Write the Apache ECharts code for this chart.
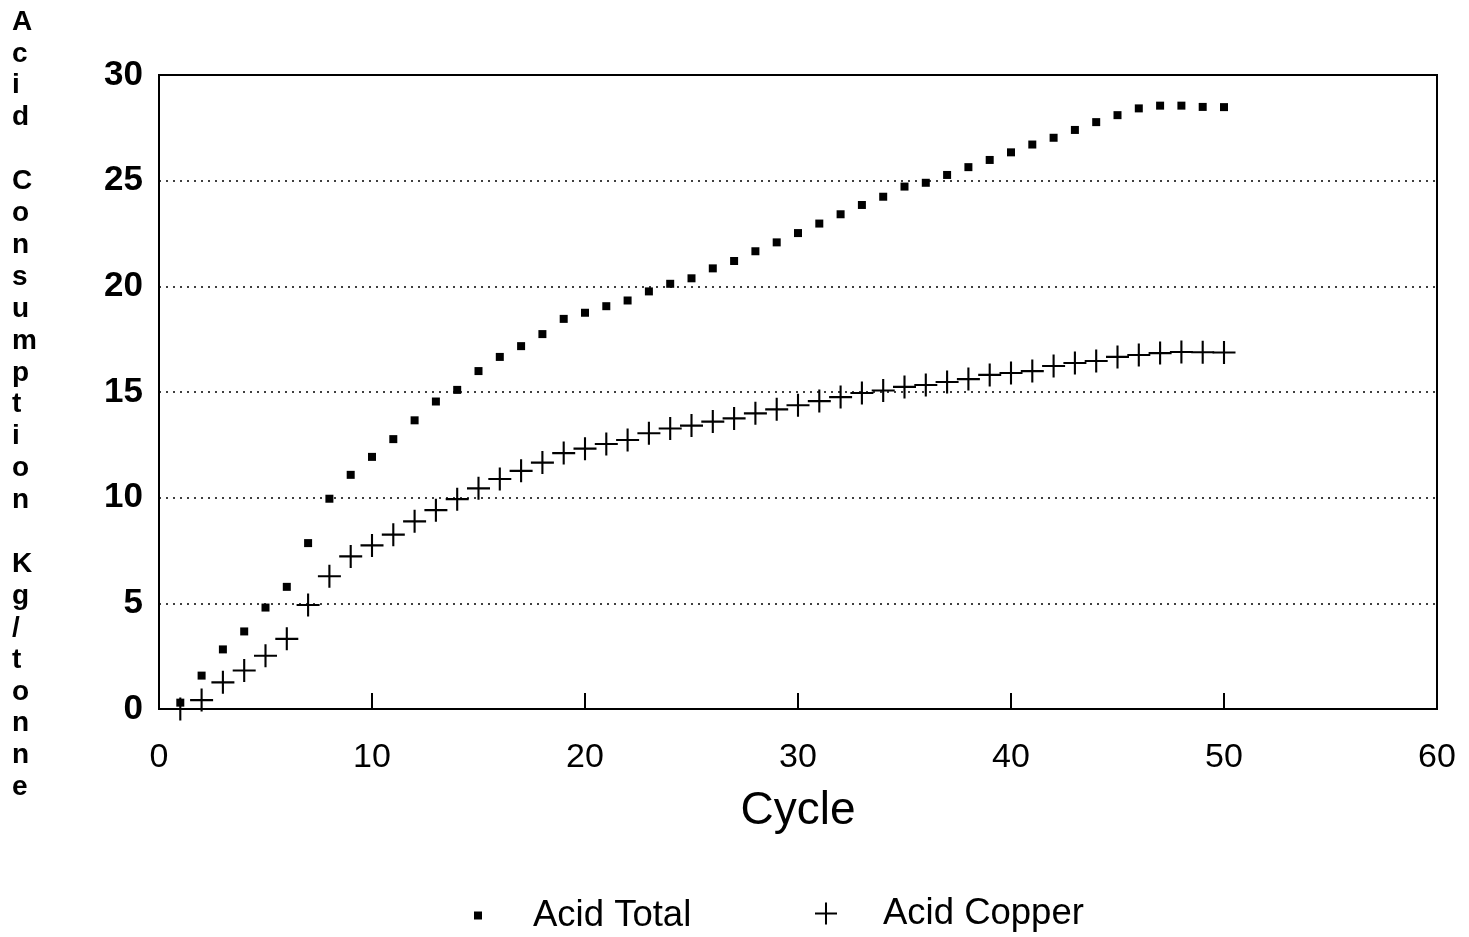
<!DOCTYPE html>
<html>
<head>
<meta charset="utf-8">
<script src="https://cdn.jsdelivr.net/npm/echarts@6/dist/echarts.min.js"></script>
<style>
html,body{margin:0;padding:0;background:#fff;}
#chart{width:1469px;height:937px;}
</style>
</head>
<body>
<div id="chart"></div>
<script>
const cycles = [1,2,3,4,5,6,7,8,9,10,11,12,13,14,15,16,17,18,19,20,21,22,23,24,25,26,27,28,29,30,31,32,33,34,35,36,37,38,39,40,41,42,43,44,45,46,47,48,49,50];
const acidTotal = [0.3,1.58,2.82,3.67,4.8,5.78,7.85,9.95,11.08,11.93,12.77,13.66,14.55,15.1,15.99,16.66,17.17,17.74,18.46,18.75,19.06,19.33,19.76,20.12,20.38,20.85,21.2,21.66,22.08,22.52,22.97,23.41,23.85,24.24,24.72,24.9,25.27,25.64,25.98,26.34,26.71,27.03,27.4,27.77,28.1,28.42,28.55,28.55,28.49,28.48];
const acidCopper = [0.0,0.42,1.26,1.82,2.52,3.32,4.92,6.28,7.22,7.74,8.25,8.88,9.41,9.93,10.44,10.88,11.27,11.66,12.11,12.32,12.54,12.73,13.05,13.27,13.41,13.6,13.75,13.99,14.18,14.37,14.57,14.76,14.95,15.07,15.24,15.33,15.47,15.61,15.81,15.9,15.99,16.23,16.37,16.47,16.66,16.75,16.84,16.89,16.88,16.87];
const xTicks = [0,10,20,30,40,50,60];
const yTicks = [0,5,10,15,20,25,30];
const seriesNames = ['Acid Total','Acid Copper'];
const xTitle = 'Cycle';
const yTitle = 'Acid Consumption Kg/tonne';

const plusPath = 'path://M-1.1,-12h2.2v24h-2.2z M-12,-1.1h24v2.2h-24z';
const yTitleStacked = yTitle.split(' ').map(w => w.split('').join('\n')).join('\n\n');

const chart = echarts.init(document.getElementById('chart'), null, {renderer:'canvas'});
chart.setOption({
  animation:false,
  backgroundColor:'#fff',
  grid:{left:159, right:32, top:75, bottom:228, show:true, borderColor:'#000', borderWidth:2, backgroundColor:'transparent'},
  xAxis:{
    type:'value', min:xTicks[0], max:xTicks[xTicks.length-1], interval:10,
    name:xTitle, nameLocation:'middle', nameGap:79,
    nameTextStyle:{fontFamily:'Liberation Sans', fontSize:46, color:'#000'},
    axisLine:{show:true, lineStyle:{color:'#000', width:2}},
    axisTick:{show:true, inside:true, length:16, lineStyle:{color:'#000', width:2}},
    axisLabel:{fontFamily:'Liberation Sans', fontSize:34, color:'#000', margin:32},
    splitLine:{show:false}
  },
  yAxis:{
    type:'value', min:yTicks[0], max:yTicks[yTicks.length-1], interval:5,
    axisLine:{show:true, lineStyle:{color:'#000', width:2}},
    axisTick:{show:false},
    axisLabel:{fontFamily:'Liberation Sans', fontSize:35, fontWeight:'bold', color:'#000', margin:16, padding:[8,0,0,0]},
    splitLine:{show:true, lineStyle:{color:'#000', width:1.5, type:[2,5]}}
  },
  graphic:[{
    type:'text', left:12, top:6,
    style:{text:yTitleStacked, fontFamily:'Liberation Sans', fontSize:28, fontWeight:'bold', fill:'#000', lineHeight:31.9, align:'center', width:34}
  }],
  legend:[{
    data:[{name:seriesNames[0], icon:'rect'}],
    left:474, top:897, padding:0, itemWidth:8, itemHeight:8,
    textStyle:{fontFamily:'Liberation Sans', fontSize:36.5, color:'#000', padding:[0,0,0,46]}
  },{
    data:[{name:seriesNames[1], icon:plusPath}],
    left:815, top:895, padding:0, itemWidth:22, itemHeight:22,
    textStyle:{fontFamily:'Liberation Sans', fontSize:36.5, color:'#000', padding:[0,0,0,41]}
  }],
  series:[{
    name:seriesNames[0], type:'scatter', symbol:'rect', symbolSize:8,
    itemStyle:{color:'#000', opacity:1},
    data:cycles.map((c,i)=>[c, acidTotal[i]])
  },{
    name:seriesNames[1], type:'scatter', symbol:plusPath, symbolSize:23,
    itemStyle:{color:'#000', opacity:1},
    data:cycles.map((c,i)=>[c, acidCopper[i]])
  }]
});
</script>
</body>
</html>
